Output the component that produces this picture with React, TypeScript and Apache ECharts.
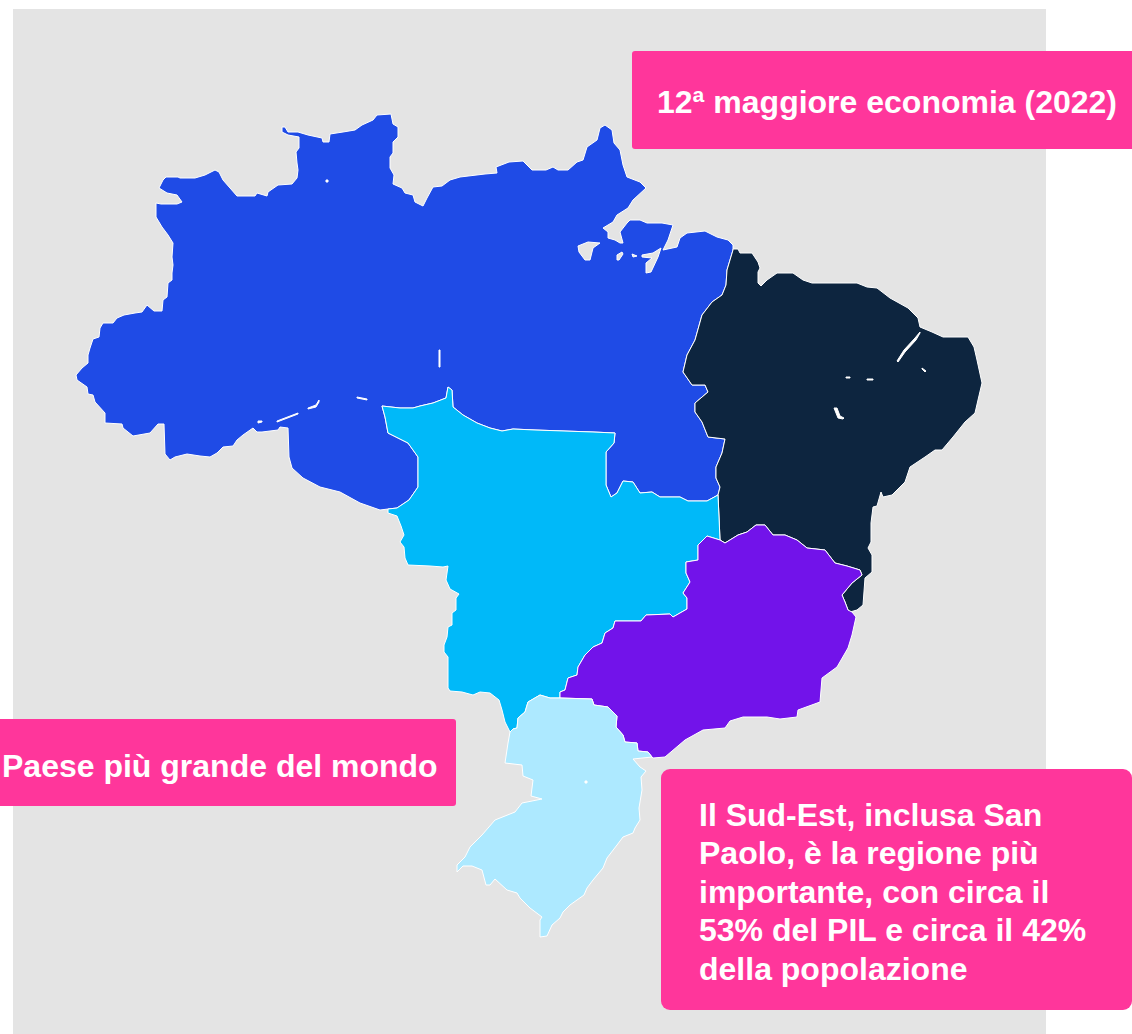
import React, { useEffect, useRef } from "react";
import * as echarts from "echarts";

type P = number[];

const regionNames = ["Nord", "Nord-Est", "Centro-Ovest", "Sud-Est", "Sud"];
const regionColors = ["#1F4BE6", "#0D253F", "#00B9F9", "#7213EA", "#ADE9FF"];
const calloutTop = "12ª maggiore economia (2022)";
const calloutLeft = "Paese più grande del mondo";
const calloutBottom = [
  "Il Sud-Est, inclusa San",
  "Paolo, è la regione più",
  "importante, con circa il",
  "53% del PIL e circa il 42%",
  "della popolazione",
];

const outerNorth: P[] = [
  [76,375],[82,368],[88,363],[88,355],[90,348],[93,339],[99,337],[100,328],[103,323],[113,323],[117,318],[124,315],[135,313],[142,312],[147,305],[154,311],[162,311],[163,300],[167,297],[168,283],[172,280],[172,273],[173,265],[172,257],[173,243],[168,235],[162,227],[156,217],[156,203],[161,204],[177,204],[182,202],[177,195],[167,193],[159,188],[163,180],[166,177],[178,177],[180,178],[195,178],[205,175],[215,170],[219,172],[223,180],[230,188],[237,196],[255,196],[257,193],[267,196],[268,192],[278,185],[292,184],[297,178],[298,170],[297,163],[296,152],[299,148],[299,137],[288,135],[282,132],[282,127],[285,127],[288,132],[298,132],[308,135],[322,138],[323,142],[329,142],[330,134],[343,132],[355,130],[362,125],[373,120],[377,115],[391,114],[393,124],[398,127],[398,137],[393,142],[393,153],[390,157],[390,168],[394,175],[393,184],[402,188],[405,193],[413,195],[415,202],[423,206],[427,198],[433,187],[442,186],[450,180],[460,177],[485,174],[497,173],[496,167],[509,162],[523,161],[532,170],[546,170],[553,167],[558,170],[568,170],[577,162],[583,160],[587,147],[597,140],[600,128],[605,125],[612,130],[614,143],[620,150],[623,165],[627,177],[640,182],[646,188],[633,200],[628,208],[617,215],[613,222],[603,228],[608,232],[608,238],[615,240],[620,243],[623,243],[620,232],[627,223],[630,220],[640,220],[647,223],[662,223],[673,225],[668,240],[663,250],[677,247],[680,238],[687,233],[705,231],[717,237],[728,240],[733,245],
];
const borderNorthNE: P[] = [
  [733,250],[727,270],[726,285],[722,295],[712,302],[702,315],[695,340],[687,355],[683,372],[692,385],[705,385],[708,392],[695,403],[695,412],[702,422],[708,437],[725,439],[722,453],[716,467],[716,478],[720,487],[718,495],
];
const borderNorthCO: P[] = [
  [707,501],[688,501],[680,497],[660,497],[652,492],[640,493],[633,482],[623,481],[617,493],[611,497],[606,485],[606,452],[614,443],[615,433],[593,432],[535,430],[513,429],[502,431],[490,428],[477,423],[463,415],[453,407],[452,390],[448,387],[446,398],[433,403],[420,406],[413,408],[400,408],[382,406],[385,417],[388,433],[408,443],[418,457],[418,487],[409,500],[397,508],[388,509],
];
const outerNorthSouth: P[] = [
  [380,510],[360,503],[340,492],[320,487],[303,478],[292,468],[289,457],[288,428],[280,427],[278,430],[262,432],[257,432],[253,428],[243,435],[237,440],[233,446],[223,447],[217,453],[210,457],[200,456],[187,454],[175,457],[170,460],[165,454],[164,424],[158,424],[150,433],[133,436],[123,428],[122,424],[105,423],[105,413],[95,402],[93,395],[88,394],[87,387],[77,380],
];
const outerNE: P[] = [
  [733,249],[738,249],[740,253],[752,253],[758,262],[760,268],[758,272],[758,283],[761,286],[767,280],[777,273],[793,273],[803,280],[812,283],[827,283],[845,283],[857,283],[867,287],[877,288],[890,298],[908,308],[918,318],[920,327],[932,332],[943,337],[968,337],[974,347],[977,360],[982,383],[978,400],[975,413],[965,422],[953,437],[942,450],[935,450],[925,457],[910,467],[905,482],[892,495],[883,497],[881,492],[877,506],[873,507],[871,523],[871,542],[868,548],[872,555],[872,572],[865,578],[863,605],[857,610],[850,612],
];
const borderNESE: P[] = [
  [848,610],[845,602],[842,595],[852,583],[862,575],[860,570],[847,566],[835,563],[825,550],[807,548],[797,540],[785,535],[773,535],[765,525],[756,525],[747,532],[738,535],[725,543],[720,540],
];
const borderNECO: P[] = [[720,540],[719,517],[718,495]];
const westCO: P[] = [
  [388,513],[397,516],[401,526],[404,535],[400,542],[404,547],[405,558],[408,565],[430,566],[443,567],[448,566],[446,580],[450,589],[459,594],[456,598],[456,610],[452,613],[452,625],[448,627],[447,637],[444,645],[444,652],[448,657],[448,688],[450,691],[462,692],[473,695],[480,692],[490,693],[499,700],[502,710],[505,722],[510,732],
];
const borderSouthCO: P[] = [[510,732],[513,729],[517,728],[518,718],[525,712],[528,702],[540,695],[550,698],[560,698]];
const borderCOSE: P[] = [
  [560,698],[560,692],[565,690],[568,678],[577,675],[578,667],[585,655],[593,647],[602,643],[605,633],[613,628],[615,621],[641,621],[646,615],[670,614],[673,617],[687,609],[687,598],[683,593],[690,582],[686,573],[686,562],[698,560],[698,545],[707,536],[720,540],
];
const borderSESouth: P[] = [
  [560,698],[592,699],[594,705],[608,707],[617,716],[616,727],[623,735],[625,742],[637,743],[638,751],[648,752],[652,757],
];
const outerSouth: P[] = [
  [633,759],[640,767],[646,771],[641,777],[642,790],[639,808],[640,820],[635,828],[633,833],[623,837],[617,845],[607,858],[603,868],[593,880],[587,888],[584,895],[570,905],[563,912],[560,918],[552,925],[547,936],[540,937],[540,920],[542,917],[530,908],[520,898],[517,893],[507,890],[495,879],[490,885],[486,885],[482,870],[472,866],[463,866],[457,872],[457,865],[465,857],[470,847],[482,835],[495,820],[515,812],[522,803],[542,799],[531,796],[533,780],[523,776],[522,765],[505,763],[508,743],
];
const outerSE: P[] = [
  [848,610],[852,612],[856,617],[852,635],[848,648],[837,667],[822,678],[820,702],[798,710],[797,717],[780,719],[767,717],[743,717],[730,721],[725,728],[703,730],[685,740],[665,757],[653,758],[652,757],
];

const greyGaps: P[][] = [
  [[578,246],[588,242],[600,243],[593,248],[590,260],[585,260],[579,252]],
  [[617,255],[622,252],[623,254],[619,260],[617,260]],
  [[632,254],[637,256],[633,257]],
  [[642,255],[653,253],[661,248],[658,257],[651,272],[646,273],[646,263],[652,258],[642,257]],
];
const whiteGaps: P[][] = [
  [[277,421],[298,413],[298,414],[277,422]],
  [[308,408],[316,405],[319,400],[319,402],[316,407],[308,409]],
  [[258,421],[262,421],[262,422],[258,423]],
  [[357,397],[367,399],[367,400],[357,398]],
  [[326,180],[328,180],[328,182],[326,182]],
  [[439,350],[440,350],[440,367],[439,367]],
  [[897,361],[904,350],[915,338],[920,332],[920,333],[916,340],[905,352],[898,362]],
  [[846,377],[850,377],[850,378],[846,378]],
  [[867,379],[873,379],[873,380],[867,380]],
  [[834,408],[837,408],[840,416],[844,418],[843,419],[838,418]],
  [[922,368],[926,371],[925,372],[922,369]],
  [[585,781],[587,781],[587,783],[585,783]],
];

const rev = (a: P[]) => [...a].reverse();
const toLat = (ring: P[]) => {
  const r = ring.map(([x, y]) => [x, -y]);
  r.push(r[0]);
  return r;
};
const feature = (name: string, rings: P[][]) => ({
  type: "Feature",
  properties: { name },
  geometry: { type: "MultiPolygon", coordinates: rings.map((r) => [toLat(r)]) },
});

const brazil = {
  type: "FeatureCollection",
  features: [
    feature(regionNames[0], [[...outerNorth, ...borderNorthNE, ...borderNorthCO, ...outerNorthSouth]]),
    feature(regionNames[1], [[...outerNE, ...borderNESE, ...borderNECO, ...rev(borderNorthNE)]]),
    feature(regionNames[2], [[...borderNorthCO, ...westCO, ...borderSouthCO, ...borderCOSE, ...borderNECO]]),
    feature(regionNames[3], [[...outerSE, ...rev(borderSESouth), ...borderCOSE, ...rev(borderNESE)]]),
    feature(regionNames[4], [[...borderSouthCO, ...borderSESouth, ...outerSouth]]),
    feature("grey", greyGaps),
    feature("white", whiteGaps),
  ],
};

const PINK = "#FF369B";
const FONT = 'bold 32px "Liberation Sans", Arial, sans-serif';

export default function App() {
  const ref = useRef<HTMLDivElement>(null);
  useEffect(() => {
    echarts.registerMap("brasile", brazil as any);
    const chart = echarts.init(ref.current!, null, { renderer: "svg" });
    const label = (text: string, x: number, y: number) => ({
      type: "text",
      x,
      y,
      z: 11,
      style: { text, fill: "#FFFFFF", font: FONT, verticalAlign: "middle" },
    });
    chart.setOption({
      animation: false,
      tooltip: { show: false },
      graphic: [
        { type: "rect", z: -1, shape: { x: 13, y: 9, width: 1033, height: 1025 }, style: { fill: "#E4E4E4" } },
        { type: "rect", z: 10, shape: { x: 632, y: 51, width: 510, height: 98, r: 3 }, style: { fill: PINK } },
        { type: "rect", z: 10, shape: { x: -10, y: 719, width: 466, height: 87, r: 3 }, style: { fill: PINK } },
        { type: "rect", z: 10, shape: { x: 661, y: 769, width: 471, height: 241, r: 9 }, style: { fill: PINK } },
        label(calloutTop, 657, 102),
        label(calloutLeft, 2, 766),
        ...calloutBottom.map((t, i) => label(t, 699, 815 + i * 38.4)),
      ],
      series: [
        {
          type: "map",
          map: "brasile",
          aspectScale: 1,
          roam: false,
          silent: true,
          left: 76,
          top: 114,
          width: 906,
          height: 823,
          label: { show: false },
          emphasis: { disabled: true },
          select: { disabled: true },
          itemStyle: { borderColor: "#FFFFFF", borderWidth: 1 },
          data: [
            ...regionNames.map((name, i) => ({ name, value: i, itemStyle: { areaColor: regionColors[i] } })),
            { name: "grey", value: 0, itemStyle: { areaColor: "#E4E4E4" } },
            { name: "white", value: 0, itemStyle: { areaColor: "#FFFFFF" } },
          ],
        },
      ],
    });
    return () => chart.dispose();
  }, []);
  return <div ref={ref} style={{ position: "absolute", left: 0, top: 0, width: 1132, height: 1034 }} />;
}
